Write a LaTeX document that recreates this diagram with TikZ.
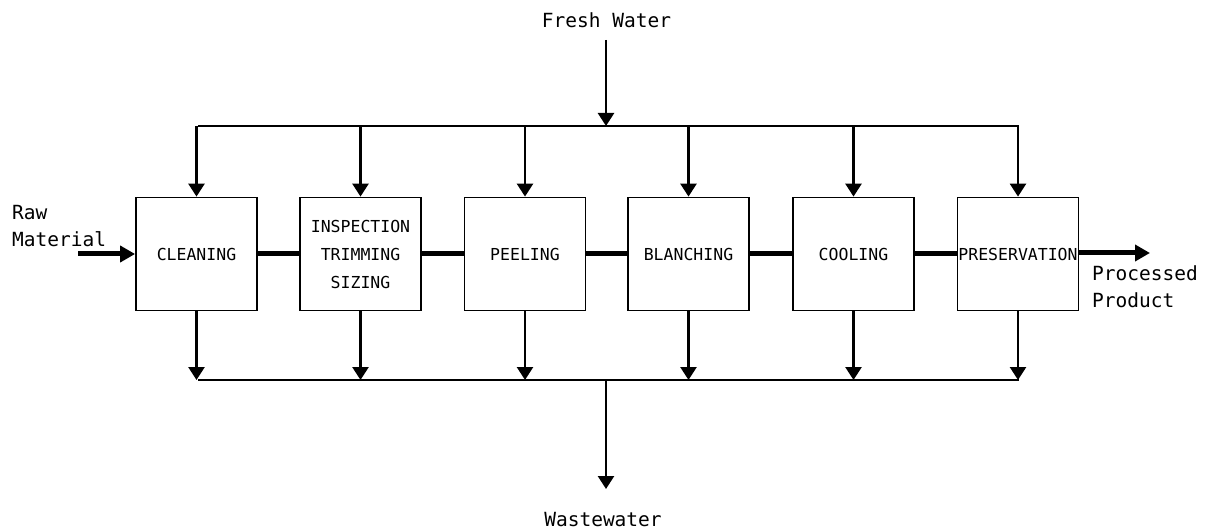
\documentclass[tikz,border=0pt]{standalone}
\usepackage{fontspec}
\newfontfamily\plotfont{DejaVu Sans Mono}
\usetikzlibrary{arrows.meta}
\begin{document}
\begin{tikzpicture}[x=1pt,y=-1pt,
  stepbox/.style={draw,line width=1.8pt,minimum width=121pt,minimum height=113pt,inner sep=0pt,
    font=\plotfont\fontsize{16.5}{28}\selectfont,align=center},
  lbl/.style={inner sep=0pt,font=\plotfont\fontsize{19.5}{27}\selectfont},
  bus/.style={line width=2.6pt},
  feed/.style={line width=2.6pt,-{Triangle[length=13pt,width=16pt]}},
  flow/.style={line width=5pt},
  flowarrow/.style={line width=5pt,-{Triangle[length=15pt,width=16pt]}}]
\useasboundingbox (0,0) rectangle (1210,529);

\node[stepbox] (b1) at (196.5,254) {CLEANING};
\node[stepbox] (b2) at (360.5,254) {INSPECTION\\TRIMMING\\SIZING};
\node[stepbox] (b3) at (525,254) {PEELING};
\node[stepbox] (b4) at (688.5,254) {BLANCHING};
\node[stepbox] (b5) at (853.5,254) {COOLING};
\node[stepbox] (b6) at (1018,254) {PRESERVATION};

\coordinate (tl) at (198,126);
\coordinate (tr) at (1019,126);
\coordinate (bl) at (198,380);
\coordinate (br) at (1019,380);
\coordinate (fwtop) at (606,40);
\coordinate (fwbus) at (606,126);
\coordinate (wwbus) at (606,380);
\coordinate (wwend) at (606,489);
\coordinate (rawstart) at (78,254);
\coordinate (prodend) at (1150,253);

\node[lbl,anchor=base] (fw) at (606.5,28) {Fresh Water};
\node[lbl,anchor=base] (ww) at (603,526) {Wastewater};
\node[lbl,anchor=base west] (raw1) at (12,220) {Raw};
\node[lbl,anchor=base west] (raw2) at (12,247) {Material};
\node[lbl,anchor=base west] (pp1) at (1092,281) {Processed};
\node[lbl,anchor=base west] (pp2) at (1092,308) {Product};

% buses
\draw[bus] (tl) -- (tr);
\draw[bus] (bl) -- (br);
\draw[feed] (fwtop) -- (fwbus);
\draw[feed] (wwbus) -- (wwend);

\foreach \b in {b1,b2,b3,b4,b5,b6}{
  \draw[feed] (\b.north |- tl) -- (\b.north);
  \draw[feed] (\b.south) -- (\b.south |- bl);
}

% main flow
\draw[flowarrow] (rawstart) -- (b1.west);
\draw[flow] (b1.east) -- (b2.west);
\draw[flow] (b2.east) -- (b3.west);
\draw[flow] (b3.east) -- (b4.west);
\draw[flow] (b4.east) -- (b5.west);
\draw[flow] (b5.east) -- (b6.west);
\draw[flowarrow] (b6.east |- prodend) -- (prodend);
\end{tikzpicture}
\end{document}
